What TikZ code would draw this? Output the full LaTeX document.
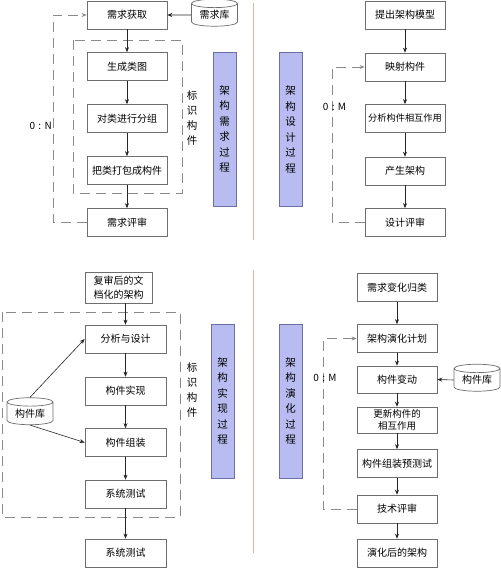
\documentclass[tikz,border=0pt]{standalone}
\usepackage{fontspec}
\setmainfont{Noto Sans CJK SC}
\usetikzlibrary{arrows.meta,shapes.geometric}
\definecolor{boxline}{HTML}{6E6E6E}
\definecolor{procfill}{HTML}{B8BCF0}
\definecolor{procline}{HTML}{6A6FA8}
\definecolor{divline}{HTML}{E2AFAF}
\definecolor{dashgray}{HTML}{8A8A8A}
\tikzset{
  stepbox/.style={draw=boxline, line width=0.7pt, fill=white, minimum width=80pt, minimum height=28pt, inner sep=1pt, font=\fontsize{10}{12}\selectfont, align=center},
  procbox/.style={draw=procline, line width=0.7pt, fill=procfill, minimum width=23pt, minimum height=154pt, inner sep=0pt, font=\fontsize{10.5}{15.5}\selectfont, align=center},
  vlabel/.style={font=\fontsize{10.5}{15}\selectfont, align=center, inner sep=0pt},
  repo/.style={cylinder, shape border rotate=90, aspect=0.28, draw=boxline, line width=0.7pt, fill=white, minimum width=46pt, minimum height=27pt, inner sep=0pt, font=\fontsize{10}{12}\selectfont},
  flow/.style={draw=black!85, line width=0.6pt, -{Stealth[length=5pt,width=4pt]}},
  fb/.style={draw=dashgray, line width=0.8pt, dash pattern=on 10pt off 6pt, -{Stealth[length=5pt,width=4pt]}},
  grp/.style={draw=dashgray, line width=0.9pt, dash pattern=on 10pt off 6pt},
  divider/.style={draw=divline, line width=0.8pt},
  ratio/.style={font=\fontsize{10}{12}\selectfont, inner sep=0pt},
}
\begin{document}
\begin{tikzpicture}[x=1pt,y=-1pt]
\useasboundingbox (0,0) rectangle (500,569);
% dividers
\draw[divider] (253.5,3) -- (253.5,240);
\draw[divider] (253.5,270) -- (253.5,553);

% ===== top-left: requirements =====
\draw[grp] (73,40) rectangle (182,193);
\node[stepbox] (a1) at (127,15) {需求获取};
\node[stepbox] (a2) at (127,66.5) {生成类图};
\node[stepbox] (a3) at (127,118.5) {对类进行分组};
\node[stepbox] (a4) at (127,170.5) {把类打包成构件};
\node[stepbox] (a5) at (127,222.5) {需求评审};
\node[repo] (adb) at (214.5,15) {需求库};
\node[vlabel] (aid) at (192,118) {标\\识\\构\\件};
\node[procbox] (ap) at (224.5,129) {架\\构\\需\\求\\过\\程};
\draw[flow] (adb.west) -- (a1.east);
\draw[flow] (a1) -- (a2);
\draw[flow] (a2) -- (a3);
\draw[flow] (a3) -- (a4);
\draw[flow] (a4) -- (a5);
\coordinate (afb) at (53,222.5);
\draw[fb] (a5.west) -- (afb) |- (a1.west);
\node[ratio, anchor=east] (an) at (52,126) {0\,\,:\,\,N};

% ===== top-right: design =====
\node[procbox] (bp) at (290.5,129.5) {架\\构\\设\\计\\过\\程};
\node[stepbox] (b1) at (405,15) {提出架构模型};
\node[stepbox] (b2) at (405,67) {映射构件};
\node[stepbox, font=\fontsize{9.2}{11}\selectfont] (b3) at (405,118.5) {分析构件相互作用};
\node[stepbox] (b4) at (405,171) {产生架构};
\node[stepbox] (b5) at (405,222.5) {设计评审};
\draw[flow] (b1) -- (b2);
\draw[flow] (b2) -- (b3);
\draw[flow] (b3) -- (b4);
\draw[flow] (b4) -- (b5);
\coordinate (bfb) at (332,222.5);
\draw[fb] (b5.west) -- (bfb) |- (b2.west);
\node[ratio] (bm) at (334.5,107) {0\,\,:\,\,M};

% ===== bottom-left: implementation =====
\draw[grp] (2,312) rectangle (180,517);
\node[stepbox, minimum width=67pt, minimum height=31pt, font=\fontsize{10}{13.5}\selectfont] (c0) at (118.5,287.5) {复审后的文\\档化的架构};
\node[stepbox, minimum width=81pt] (c1) at (125.5,339) {分析与设计};
\node[stepbox, minimum width=81pt] (c2) at (125.5,391) {构件实现};
\node[stepbox, minimum width=81pt] (c3) at (125.5,442.5) {构件组装};
\node[stepbox, minimum width=81pt] (c4) at (125.5,494) {系统测试};
\node[stepbox, minimum width=81pt] (c5) at (125.5,553) {系统测试};
\node[repo] (cdb) at (30,413.5) {构件库};
\node[vlabel] (cid) at (192,390) {标\\识\\构\\件};
\node[procbox] (cp) at (222.5,401) {架\\构\\实\\现\\过\\程};
\draw[flow] (c0.south -| c1) -- (c1);
\draw[flow] (c1) -- (c2);
\draw[flow] (c2) -- (c3);
\draw[flow] (c3) -- (c4);
\draw[flow] (c4) -- (c5);
\draw[flow] (cdb.north) -- (c1.west);
\draw[flow] (cdb.south) -- (c3.west);

% ===== bottom-right: evolution =====
\node[procbox] (dp) at (290.5,401) {架\\构\\演\\化\\过\\程};
\node[stepbox] (d1) at (397,287.5) {需求变化归类};
\node[stepbox] (d2) at (397,338.5) {架构演化计划};
\node[stepbox, minimum height=27pt] (d3) at (397,379.5) {构件变动};
\node[stepbox, minimum height=26pt, font=\fontsize{9.5}{12}\selectfont] (d4) at (397,420) {更新构件的\\相互作用};
\node[stepbox] (d5) at (397,463.5) {构件组装预测试};
\node[stepbox] (d6) at (397,509) {技术评审};
\node[stepbox] (d7) at (397,553) {演化后的架构};
\node[repo] (ddb) at (477,380) {构件库};
\draw[flow] (d1) -- (d2);
\draw[flow] (d2) -- (d3);
\draw[flow] (d3) -- (d4);
\draw[flow] (d4) -- (d5);
\draw[flow] (d5) -- (d6);
\draw[flow] (d6) -- (d7);
\draw[flow] (ddb.west) -- (d3.east);
\coordinate (dfb) at (323,509);
\draw[fb] (d6.west) -- (dfb) |- (d2.west);
\node[ratio] (dm) at (325,378) {0\,\,:\,\,M};
\end{tikzpicture}
\end{document}
